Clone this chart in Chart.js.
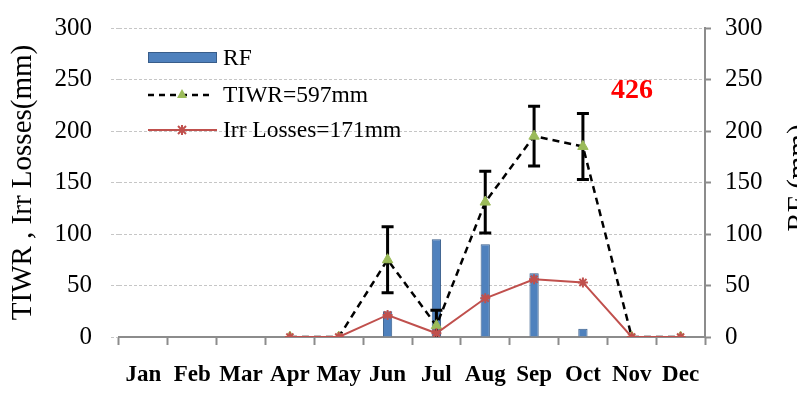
<!DOCTYPE html>
<html>
<head>
<meta charset="utf-8">
<script src="https://cdn.jsdelivr.net/npm/chart.js@4"></script>
<style>
html,body{margin:0;padding:0;background:#fff;overflow:hidden;}
#wrap{width:797px;height:393px;}
</style>
</head>
<body>
<div id="wrap"><canvas id="c" width="797" height="393"></canvas></div>
<script>
const months = ['Jan','Feb','Mar','Apr','May','Jun','Jul','Aug','Sep','Oct','Nov','Dec'];
const rfValues = [null,null,null,null,null,25,95,90,62,8,null,null];
const tiwrValues = [null,null,null,0,0,75,11,131,195,185,0,0];
const tiwrErrors = [null,null,null,null,null,32,15,30,29,32,null,null];
const irrValues = [null,null,null,0,0,21.4,3.6,37.6,56,53,0,0];
const yTicks = [0,50,100,150,200,250,300];
const legendLabels = ['RF','TIWR=597mm','Irr Losses=171mm'];
const annotationText = '426';

const SERIF = '"Liberation Serif", "Times New Roman", serif';
const BLUE = '#4F81BD', GREEN = '#9BBB59', RED = '#C0504D';

const errorBars = {
  id: 'errorBars',
  beforeDatasetDraw(chart, args) {
    if (args.index !== 1) return;
    const {ctx, chartArea, scales} = chart;
    const x = scales.x, y = scales.y;
    ctx.save();
    ctx.beginPath();
    ctx.rect(chartArea.left, chartArea.top, chartArea.right - chartArea.left, chartArea.bottom - chartArea.top);
    ctx.clip();
    ctx.strokeStyle = '#000';
    ctx.lineWidth = 3;
    tiwrErrors.forEach((e, i) => {
      if (e == null || tiwrValues[i] == null) return;
      const px = x.getPixelForValue(i);
      const top = y.getPixelForValue(tiwrValues[i] + e);
      const bot = y.getPixelForValue(tiwrValues[i] - e);
      ctx.beginPath();
      ctx.moveTo(px, top); ctx.lineTo(px, bot);
      ctx.moveTo(px - 6, top); ctx.lineTo(px + 6, top);
      ctx.moveTo(px - 6, bot); ctx.lineTo(px + 6, bot);
      ctx.stroke();
    });
    ctx.restore();
  }
};

const extras = {
  id: 'extras',
  afterDraw(chart) {
    const {ctx} = chart;
    ctx.save();
    // legend
    const lx = 148, tx = 223;
    const rows = [58, 95, 130];
    ctx.fillStyle = BLUE; ctx.strokeStyle = '#385D8A'; ctx.lineWidth = 1;
    ctx.fillRect(lx, 52, 69, 11); ctx.strokeRect(lx + 0.5, 52.5, 68, 10);
    ctx.strokeStyle = '#000'; ctx.lineWidth = 2.5; ctx.setLineDash([6, 5]);
    ctx.beginPath(); ctx.moveTo(lx, rows[1]); ctx.lineTo(lx + 64, rows[1]); ctx.stroke();
    ctx.setLineDash([]);
    ctx.fillStyle = GREEN;
    ctx.beginPath(); ctx.moveTo(182, rows[1] - 6); ctx.lineTo(187, rows[1] + 3); ctx.lineTo(177, rows[1] + 3); ctx.closePath(); ctx.fill();
    ctx.strokeStyle = RED; ctx.lineWidth = 2;
    ctx.beginPath(); ctx.moveTo(lx, rows[2]); ctx.lineTo(lx + 69, rows[2]); ctx.stroke();
    ctx.beginPath();
    ctx.moveTo(178, rows[2] - 4); ctx.lineTo(186, rows[2] + 4);
    ctx.moveTo(186, rows[2] - 4); ctx.lineTo(178, rows[2] + 4);
    ctx.moveTo(182, rows[2] - 5); ctx.lineTo(182, rows[2] + 5);
    ctx.stroke();
    ctx.fillStyle = '#000';
    ctx.font = '23.5px ' + SERIF;
    ctx.textBaseline = 'middle'; ctx.textAlign = 'left';
    legendLabels.forEach((t, i) => ctx.fillText(t, tx, rows[i] + 1));
    // annotation
    ctx.fillStyle = '#FF0000';
    ctx.font = 'bold 28px ' + SERIF;
    ctx.textAlign = 'center'; ctx.textBaseline = 'alphabetic';
    ctx.fillText(annotationText, 632, 98);
    // right axis title
    ctx.fillStyle = '#000';
    ctx.font = '29px ' + SERIF;
    ctx.translate(807, 178);
    ctx.rotate(-Math.PI / 2);
    ctx.textAlign = 'center'; ctx.textBaseline = 'alphabetic';
    ctx.fillText('RF (mm)', 0, 0);
    ctx.restore();
  }
};

function fixV(w) {
  return function (s) { s.width = w; s.paddingTop = 0; s.paddingBottom = 0; };
}

new Chart(document.getElementById('c'), {
  data: {
    labels: months,
    datasets: [
      {
        type: 'bar', label: legendLabels[0], data: rfValues, yAxisID: 'y1',
        backgroundColor: BLUE, borderColor: '#385D8A', borderWidth: 1,
        categoryPercentage: 1, barPercentage: 0.19, order: 3
      },
      {
        type: 'line', label: legendLabels[1], data: tiwrValues, yAxisID: 'y',
        borderColor: '#000', borderWidth: 2.5, borderDash: [7, 5], fill: false, tension: 0,
        pointStyle: 'triangle', pointRadius: 6, pointBackgroundColor: GREEN, pointBorderColor: GREEN,
        pointBorderWidth: 1, spanGaps: false, order: 2
      },
      {
        type: 'line', label: legendLabels[2], data: irrValues, yAxisID: 'y',
        borderColor: RED, borderWidth: 2, fill: false, tension: 0,
        pointStyle: 'star', pointRadius: 5, pointBorderColor: RED, pointBackgroundColor: RED,
        pointBorderWidth: 2, order: 1
      }
    ]
  },
  options: {
    responsive: false,
    animation: false,
    devicePixelRatio: 1,
    layout: {padding: {top: 28, left: 0, right: 0, bottom: 0}},
    plugins: {legend: {display: false}, tooltip: {enabled: false}},
    scales: {
      x: {
        type: 'category',
        offset: true,
        afterFit(s) { s.height = 56; s.paddingLeft = 0; s.paddingRight = 0; },
        grid: {offset: true, drawOnChartArea: false, drawTicks: true, tickLength: 8, tickColor: '#8c8c8c', tickWidth: 2},
        border: {display: true, color: '#8c8c8c', width: 2},
        ticks: {font: {family: SERIF, size: 23, weight: 'bold'}, color: '#000', padding: 16, maxRotation: 0, minRotation: 0, autoSkip: false}
      },
      y: {
        position: 'left', min: 0, max: 300,
        afterFit: fixV(119),
        afterBuildTicks(s) { s.ticks = yTicks.map(v => ({value: v})); },
        grid: {color: '#c6c6c6', lineWidth: 1, drawTicks: true, tickLength: 8, tickColor: '#c6c6c6', tickBorderDash: [3, 2]},
        border: {display: false, dash: [3, 2]},
        ticks: {font: {family: SERIF, size: 25}, color: '#000', padding: 19},
        title: {display: true, text: 'TIWR , Irr Losses(mm)', font: {family: SERIF, size: 29}, color: '#000', padding: {top: 6, bottom: 0}}
      },
      y1: {
        position: 'right', min: 0, max: 300,
        afterFit: fixV(92),
        afterBuildTicks(s) { s.ticks = yTicks.map(v => ({value: v})); },
        grid: {drawOnChartArea: false, drawTicks: true, tickLength: 6, tickColor: '#8c8c8c', tickWidth: 2},
        border: {display: true, color: '#8c8c8c', width: 2},
        ticks: {font: {family: SERIF, size: 25}, color: '#000', padding: 14}
      }
    }
  },
  plugins: [errorBars, extras]
});
</script>
</body>
</html>
